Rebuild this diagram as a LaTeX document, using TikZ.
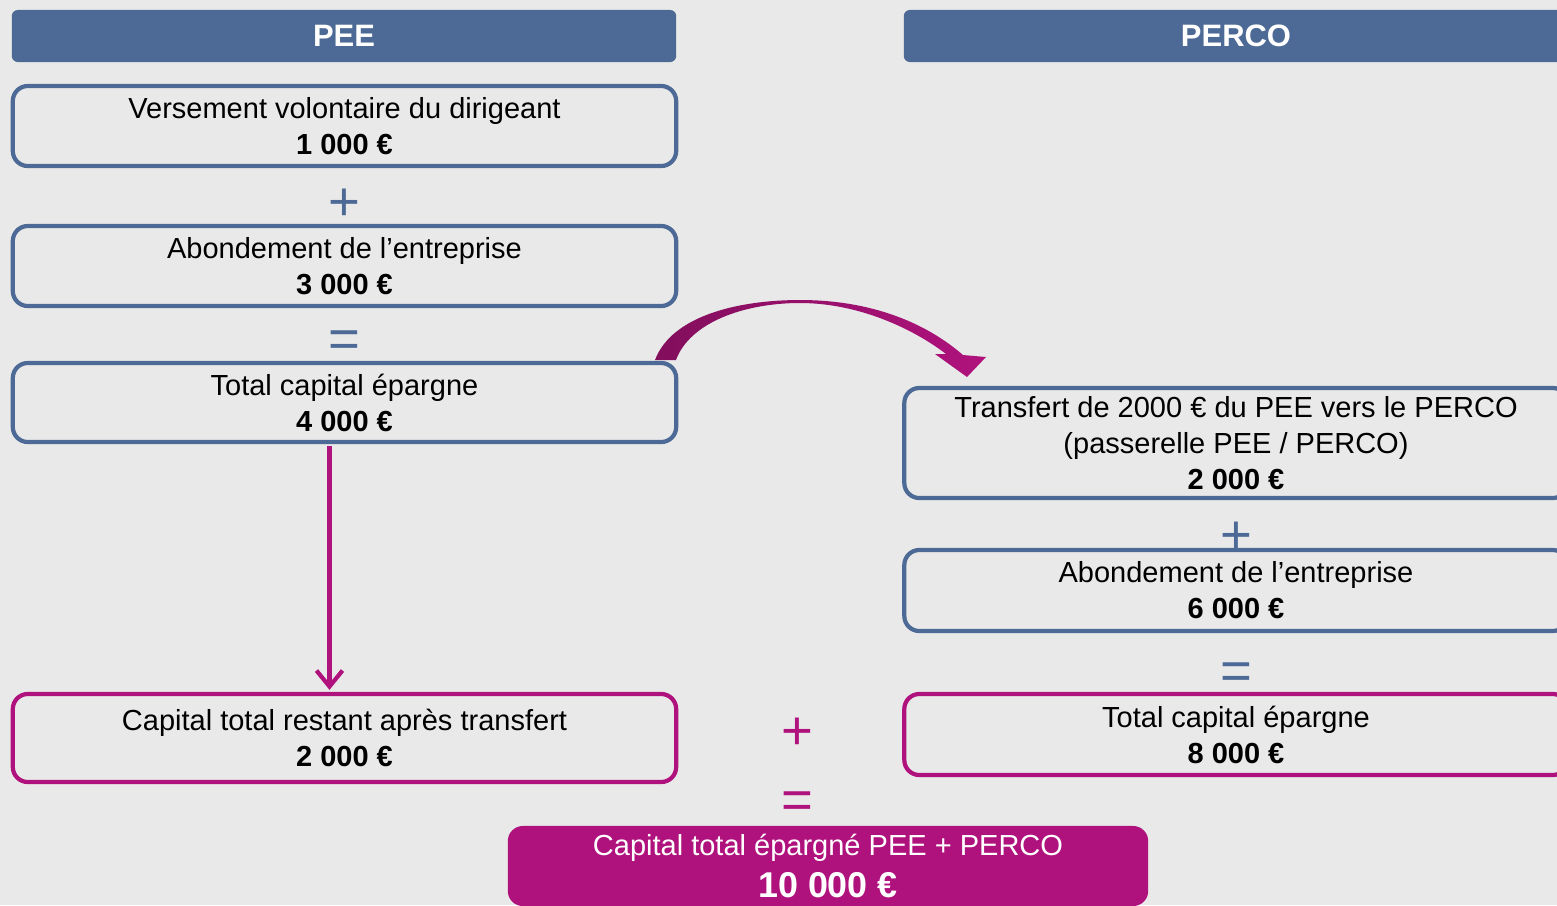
\documentclass[tikz,border=0pt]{standalone}
\usepackage{fontspec}
\setmainfont{Liberation Sans}
\usetikzlibrary{arrows.meta}
\definecolor{bleupee}{RGB}{77,106,150}
\definecolor{rosepee}{RGB}{176,18,125}
\definecolor{rosefonce}{RGB}{130,14,92}
\definecolor{fondgris}{RGB}{233,233,233}
\tikzset{
	boite/.style={draw, line width=0.042cm, rounded corners=0.15cm, minimum width=6.63cm, inner sep=0pt, align=center, font=\fontsize{8.25}{10.25}\selectfont},
	boitebleue/.style={boite, draw=bleupee},
	boiterose/.style={boite, draw=rosepee},
	entete/.style={fill=bleupee, rounded corners=0.06cm, minimum width=6.64cm, minimum height=0.52cm, inner sep=0pt, text=white, font=\fontsize{8.8}{10}\selectfont\bfseries},
	signe/.style={inner sep=0pt, font=\fontsize{15.5}{16}\selectfont}
}

\begin{document}
\begin{tikzpicture}[x=0.01cm,y=-0.01cm]
		\clip (0,0) rectangle (1557,905);
		\fill[fondgris] (0,0) rectangle (1557,905);
		% en-tetes
		\node[entete] (hpee) at (344,36) {PEE};
		\node[entete] (hperco) at (1236,36) {PERCO};
		% colonne PEE
		\node[boitebleue, minimum height=0.80cm] (verse) at (344.5,126) {Versement volontaire du dirigeant\\\textbf{1 000 €}};
		\node[signe, text=bleupee] (plusa) at (344,205) {+};
		\node[boitebleue, minimum height=0.80cm] (abonda) at (344.5,266) {Abondement de l’entreprise\\\textbf{3 000 €}};
		\node[signe, text=bleupee] (egala) at (344,344) {=};
		\node[boitebleue, minimum height=0.79cm] (totala) at (344.5,402.5) {Total capital épargne\\\textbf{4 000 €}};
		\node[boiterose, minimum height=0.88cm] (reste) at (344.5,738) {Capital total restant après transfert\\\textbf{2 000 €}};
		% colonne PERCO
		\node[boitebleue, minimum height=1.10cm] (transf) at (1236,443) {Transfert de 2000 € du PEE vers le PERCO\\(passerelle PEE / PERCO)\\\textbf{2 000 €}};
		\node[signe, text=bleupee] (plusb) at (1236,538) {+};
		\node[boitebleue, minimum height=0.81cm] (abondb) at (1236,590.5) {Abondement de l’entreprise\\\textbf{6 000 €}};
		\node[signe, text=bleupee] (egalb) at (1236,676) {=};
		\node[boiterose, minimum height=0.81cm] (totalb) at (1236,734.5) {Total capital épargne\\\textbf{8 000 €}};
		% somme finale
		\node[signe, text=rosepee] (plusc) at (797,734) {+};
		\node[signe, text=rosepee] (egalc) at (797,805) {=};
		\node[fill=rosepee, rounded corners=0.15cm, minimum width=6.40cm, minimum height=0.80cm, inner sep=0pt, align=center, text=white, font=\fontsize{8.25}{10.25}\selectfont] (final) at (828,866) {Capital total épargné PEE + PERCO\\[1.6pt]{\fontsize{10.2}{11}\selectfont\bfseries 10 000 €}};
		% fleches
		\draw[rosepee, line width=0.042cm, -{Straight Barb[length=0.16cm, width=0.26cm]}] ([xshift=-0.15cm, yshift=-0.02cm]totala.south) -- ([xshift=-0.15cm, yshift=0.02cm]reste.north);
		\shade[left color=rosefonce, right color=rosepee] (655,360) .. controls (672,315) and (740,300) .. (800,300) .. controls (870,300) and (925,322) .. (963,355) -- (986,357) -- (967,377) -- (935,354) -- (946,354) .. controls (915,330) and (860,303) .. (800,303) .. controls (745,303) and (690,322) .. (676,360) -- cycle;
	\end{tikzpicture}
\end{document}
